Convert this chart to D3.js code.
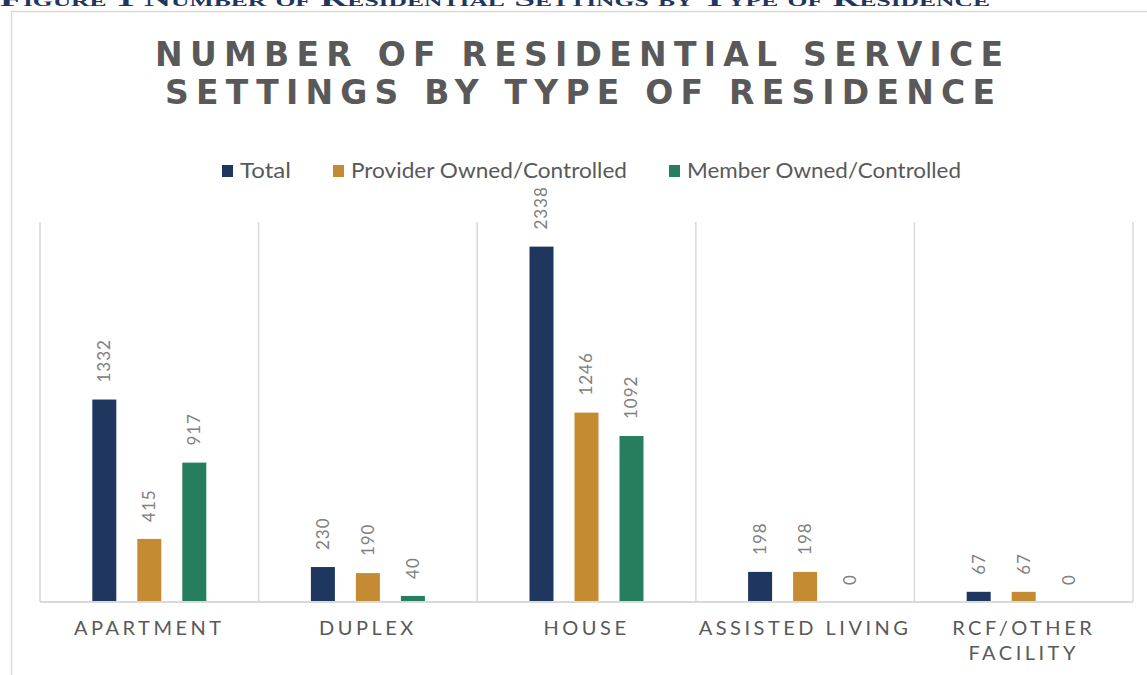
<!DOCTYPE html>
<html>
<head>
<meta charset="utf-8">
<script src="https://cdn.jsdelivr.net/npm/d3@7"></script>
<style>
  body { margin: 0; background: #fff; }
  svg { display: block; }
</style>
</head>
<body>
<script>
"use strict";

// chart values
const categories = [["APARTMENT"], ["DUPLEX"], ["HOUSE"], ["ASSISTED LIVING"], ["RCF/OTHER", "FACILITY"]];
const seriesNames = ["Total", "Provider Owned/Controlled", "Member Owned/Controlled"];
const totalValues = [1332, 230, 2338, 198, 67];
const providerValues = [415, 190, 1246, 198, 67];
const memberValues = [917, 40, 1092, 0, 0];
const seriesColors = ["#1f365f", "#c58b33", "#277e5f"];

let width = 1147,
    height = 675,
    plot = { left: 40, right: 1133, top: 222, bottom: 602 };

let svg = d3.select("body")
    .append("svg")
    .attr("width", width)
    .attr("height", height);

// header of the page above, cut off as in the source
svg.append("text")
    .attr("x", 0)
    .attr("y", 6)
    .attr("font-family", "Liberation Serif")
    .attr("font-weight", "bold")
    .attr("font-size", 22)
    .style("font-variant", "small-caps")
    .attr("fill", "#1f365f")
    .attr("textLength", 990)
    .attr("lengthAdjust", "spacingAndGlyphs")
    .text("Figure 1 Number of Residential Settings by Type of Residence");

// chart frame
svg.append("path")
    .attr("d", "M11.5," + (height + 2) + "V11.5H" + (width + 2))
    .attr("fill", "none")
    .attr("stroke", "#d9d9d9")
    .attr("stroke-width", 1.5);

// title
let titleLines = [
    { text: "NUMBER OF RESIDENTIAL SERVICE", y: 66, x0: 155, x1: 1003 },
    { text: "SETTINGS BY TYPE OF RESIDENCE", y: 104, x0: 165, x1: 995 }
];
svg.selectAll("text.title")
    .data(titleLines)
    .enter().append("text")
    .attr("class", "title")
    .attr("x", d => d.x0)
    .attr("y", d => d.y)
    .attr("font-family", "DejaVu Sans")
    .attr("font-weight", "bold")
    .attr("font-size", 33)
    .attr("fill", "#595959")
    .attr("textLength", d => d.x1 - d.x0)
    .attr("lengthAdjust", "spacing")
    .text(d => d.text);

// legend
let legendItems = [
    { name: seriesNames[0], x: 222, w: 51 },
    { name: seriesNames[1], x: 333, w: 276 },
    { name: seriesNames[2], x: 669, w: 274 }
];
let legend = svg.selectAll("g.legend")
    .data(legendItems)
    .enter().append("g")
    .attr("class", "legend")
    .attr("transform", d => "translate(" + d.x + ",171)");

legend.append("rect")
    .attr("x", 0)
    .attr("y", -6)
    .attr("width", 11)
    .attr("height", 12)
    .attr("fill", (d, i) => seriesColors[i]);

legend.append("text")
    .attr("x", 18)
    .attr("y", 0)
    .attr("dy", "0.35em")
    .attr("font-family", "Lato")
    .attr("font-size", 21)
    .attr("fill", "#595959")
    .attr("textLength", d => d.w)
    .attr("lengthAdjust", "spacingAndGlyphs")
    .text(d => d.name);

// scales
let x0 = d3.scaleBand()
    .domain(d3.range(categories.length))
    .range([plot.left, plot.right])
    .padding(0);

let x1 = d3.scaleBand()
    .domain(seriesNames)
    .range([-67.5, 67.5])
    .paddingInner(0.4667)
    .paddingOuter(0.2333);

let y = d3.scaleLinear()
    .domain([0, 2500])
    .range([plot.bottom, plot.top]);

// category separators
svg.selectAll("line.sep")
    .data(d3.range(categories.length + 1))
    .enter().append("line")
    .attr("class", "sep")
    .attr("x1", i => i < categories.length ? x0(i) : plot.right)
    .attr("x2", i => i < categories.length ? x0(i) : plot.right)
    .attr("y1", plot.top)
    .attr("y2", plot.bottom)
    .attr("stroke", "#d9d9d9")
    .attr("stroke-width", 1.5);

// bars
let rows = [];
categories.forEach(function (c, ci) {
    [totalValues, providerValues, memberValues].forEach(function (vals, si) {
        rows.push({ cat: ci, series: seriesNames[si], color: seriesColors[si], value: vals[ci] });
    });
});

let cx = d => x0(d.cat) + x0.bandwidth() / 2 + x1(d.series);

svg.selectAll("rect.bar")
    .data(rows)
    .enter().append("rect")
    .attr("class", "bar")
    .attr("x", cx)
    .attr("width", x1.bandwidth())
    .attr("y", d => y(d.value))
    .attr("height", d => y(0) - y(d.value))
    .attr("fill", d => d.color);

// value labels, rotated
svg.selectAll("text.value")
    .data(rows)
    .enter().append("text")
    .attr("class", "value")
    .attr("transform", d => "translate(" + (cx(d) + x1.bandwidth() / 2) + "," + (y(d.value) - 17) + ") rotate(-90)")
    .attr("dy", "0.35em")
    .attr("font-family", "Lato")
    .attr("font-size", 17)
    .attr("letter-spacing", 1)
    .attr("fill", "#808080")
    .text(d => d.value);

// baseline
svg.append("line")
    .attr("x1", plot.left)
    .attr("x2", plot.right)
    .attr("y1", plot.bottom)
    .attr("y2", plot.bottom)
    .attr("stroke", "#d9d9d9")
    .attr("stroke-width", 2);

// category labels
let catLabels = svg.selectAll("text.cat")
    .data(categories)
    .enter().append("text")
    .attr("class", "cat")
    .attr("x", (d, i) => x0(i) + x0.bandwidth() / 2)
    .attr("y", 635)
    .attr("text-anchor", "middle")
    .attr("font-family", "Lato")
    .attr("font-size", 20)
    .attr("letter-spacing", 3.5)
    .attr("fill", "#595959");

catLabels.selectAll("tspan")
    .data(d => d)
    .enter().append("tspan")
    .attr("x", function () { return this.parentNode.getAttribute("x"); })
    .attr("dy", (d, i) => i === 0 ? 0 : 25)
    .text(d => d);
</script>
</body>
</html>
